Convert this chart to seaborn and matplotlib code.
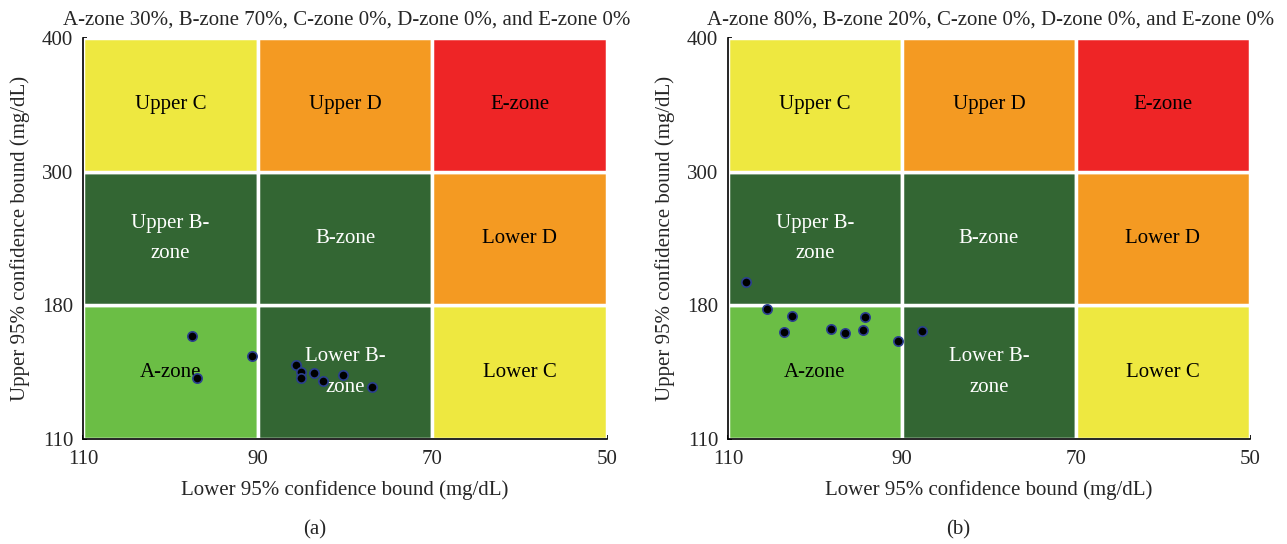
import numpy as np
import pandas as pd
import matplotlib
matplotlib.use("Agg")
import matplotlib.pyplot as plt
from matplotlib.patches import Rectangle
import seaborn as sns

sns.set_theme(style="white")
plt.rcParams['font.family'] = ['Liberation Serif', 'DejaVu Serif']

# axis tick values (grid boundaries)
x_ticks = [110, 90, 70, 50]
y_ticks = [110, 180, 300, 400]

# zone grid (rows bottom->top, cols left->right)
zone_colors = [
    ["#6bbe45", "#336633", "#eee840"],
    ["#336633", "#336633", "#f49a22"],
    ["#eee840", "#f49a22", "#ee2526"],
]
zone_labels = [
    ["A-zone", "Lower B-\nzone", "Lower C"],
    ["Upper B-\nzone", "B-zone", "Lower D"],
    ["Upper C", "Upper D", "E-zone"],
]

titles = ["A-zone 30%, B-zone 70%, C-zone 0%, D-zone 0%, and E-zone 0%",
          "A-zone 80%, B-zone 20%, C-zone 0%, D-zone 0%, and E-zone 0%"]
panel_tags = ["(a)", "(b)"]

# panel (a) points (mg/dL)
a_lower = [97.5, 90.7, 97.0, 85.6, 85.0, 85.0, 83.5, 82.5, 80.2, 76.9]
a_upper = [163.7, 153.6, 142.0, 148.5, 145.3, 142.0, 144.6, 140.3, 143.6, 137.3]
# panel (b) points (mg/dL)
b_lower = [107.9, 105.5, 102.6, 103.6, 98.2, 96.6, 94.2, 94.5, 90.5, 87.7]
b_upper = [201.0, 178.3, 174.6, 166.2, 167.8, 165.7, 174.1, 167.1, 161.5, 166.6]

datasets = [(a_lower, a_upper), (b_lower, b_upper)]

fig = plt.figure(figsize=(12.87, 5.44), dpi=100)
positions = [[83 / 1287, 105 / 544, 524 / 1287, 401 / 544],
             [728 / 1287, 105 / 544, 522 / 1287, 401 / 544]]
tag_x = [315 / 1287, 958 / 1287]

def xmap(v):
    return np.interp(-np.asarray(v, float), -np.asarray(x_ticks, float), np.arange(4))

def ymap(v):
    return np.interp(np.asarray(v, float), np.asarray(y_ticks, float), np.arange(4))

FS = 15
for p, pos in enumerate(positions):
    ax = fig.add_axes(pos)
    for r in range(3):
        for c in range(3):
            col = zone_colors[r][c]
            ax.add_patch(Rectangle((c, r), 1, 1, facecolor=col, edgecolor="white",
                                   linewidth=2.5, zorder=1))
            tc = "white" if col == "#336633" else "black"
            ax.text(c + 0.5, r + 0.5, zone_labels[r][c], ha="center", va="center",
                    fontsize=FS, color=tc, linespacing=1.85, zorder=2)
    lo, up = datasets[p]
    df = pd.DataFrame({"x": xmap(lo), "y": ymap(up)})
    sns.scatterplot(data=df, x="x", y="y", ax=ax, color="black", s=45,
                    edgecolor="#2b3f8f", linewidth=1.2, zorder=5)
    ax.set_xlim(0, 3)
    ax.set_ylim(0, 3)
    ax.set_xticks(range(4))
    ax.set_xticklabels([str(t) for t in x_ticks])
    ax.set_yticks(range(4))
    ax.set_yticklabels([str(t) for t in y_ticks])
    ax.tick_params(axis="both", labelsize=FS, direction="in", length=3,
                   left=True, bottom=True, color="black")
    ax.tick_params(axis="x", pad=8)
    ax.tick_params(axis="y", pad=7)
    for s in ["top", "right"]:
        ax.spines[s].set_visible(False)
    for s in ["left", "bottom"]:
        ax.spines[s].set_color("black")
        ax.spines[s].set_linewidth(1.2)
        ax.spines[s].set_zorder(6)
    ax.set_xlabel("Lower 95% confidence bound (mg/dL)", fontsize=FS)
    ax.set_ylabel("Upper 95% confidence bound (mg/dL)", fontsize=FS)
    ax.xaxis.set_label_coords(0.5, -0.127)
    ax.xaxis.label.set_va("center")
    ax.yaxis.set_label_coords(-0.12, 0.5)
    ax.yaxis.label.set_va("center")
    ax.text(0.503, 1.045, titles[p], transform=ax.transAxes, ha="center",
            va="center", fontsize=FS)
    fig.text(tag_x[p], 0.026, panel_tags[p], ha="center", va="center", fontsize=FS)
    ax.grid(False)

fig.savefig("out.png", dpi=100)
